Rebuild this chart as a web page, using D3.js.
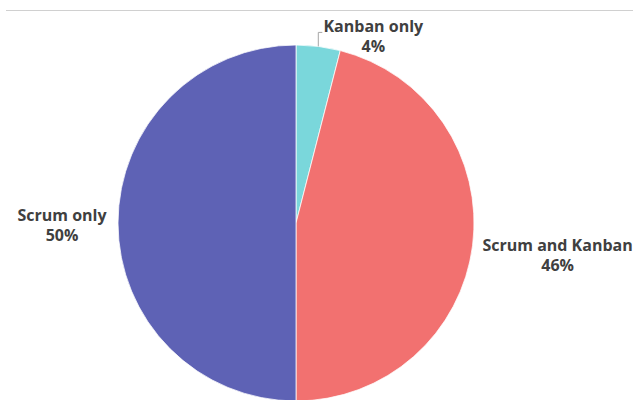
<!DOCTYPE html>
<html lang="en">
<head>
    <meta charset='utf-8'>
    <title>Scrum vs Kanban</title>
    <script src="https://cdn.jsdelivr.net/npm/d3@7"></script>
    <style>
        html, body { margin: 0; padding: 0; background: #fff; }
        svg { display: block; }
    </style>
</head>
<body>
<svg></svg>
<script>
    const categories = ["Kanban only", "Scrum and Kanban", "Scrum only"]
    const values = [4, 46, 50]
    const colors = ["#7ad7db", "#f27170", "#5e62b5"]

    const width = 633
    const height = 400
    const cx = 296
    const cy = 223
    const radius = 178

    // label offsets from the slice's outer mid point (Excel "best fit" look)
    const labelLayout = [
        { dx: 55, dy: -14, leader: true },
        { dx: 85, dy: 6 },
        { dx: -56, dy: -2 }
    ]

    const svg = d3.select("svg")
        .attr("width", width)
        .attr("height", height)
        .attr("viewBox", [0, 0, width, height])

    // thin top rule
    svg.append("line")
        .attr("x1", 6).attr("x2", width)
        .attr("y1", 10.5).attr("y2", 10.5)
        .attr("stroke", "#d0d0d0")
        .attr("stroke-width", 1)

    const pie = d3.pie().sort(null).value(d => d)
    const arcs = pie(values)

    const arc = d3.arc().innerRadius(0).outerRadius(radius)

    const g = svg.append("g")
        .attr("transform", `translate(${cx},${cy})`)

    g.selectAll("path")
        .data(arcs)
        .join("path")
        .attr("d", arc)
        .attr("fill", (d, i) => colors[i])
        .attr("stroke", "#fff")
        .attr("stroke-width", 0.75)

    const total = d3.sum(values)
    const pct = d3.format(".0%")

    const labels = g.append("g")
        .attr("font-family", "'Open Sans', sans-serif")
        .attr("font-weight", "bold")
        .attr("font-size", 16)
        .attr("fill", "#404040")
        .attr("text-anchor", "middle")

    arcs.forEach((d, i) => {
        const mid = (d.startAngle + d.endAngle) / 2
        const L = labelLayout[i]
        const px = Math.sin(mid) * radius
        const py = -Math.cos(mid) * radius
        const x = px + L.dx
        const y = py + L.dy

        const t = labels.append("text")
            .attr("x", x)
            .attr("y", y)
        t.append("tspan").attr("x", x).attr("dy", 0).text(categories[i])
        t.append("tspan").attr("x", x).attr("dy", 20).text(pct(values[i] / total))

        if (L.leader) {
            const topY = py - 14
            g.append("path")
                .attr("d", d3.line()([[px, py], [px, topY], [px + 4, topY]]))
                .attr("fill", "none")
                .attr("stroke", "#a6a6a6")
                .attr("stroke-width", 1)
        }
    })
</script>
</body>
</html>
